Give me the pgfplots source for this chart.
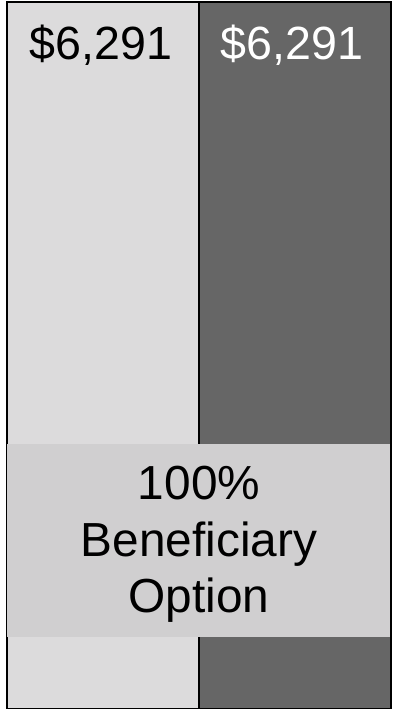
\documentclass[border=0pt]{standalone}
\usepackage{pgfplots}
\pgfplotsset{compat=1.18}
\usepackage{fontspec}
\setmainfont{Liberation Sans}
\definecolor{barL}{HTML}{DCDBDC}
\definecolor{barR}{HTML}{666666}
\definecolor{boxC}{HTML}{D0CFD0}
\begin{document}
\begin{tikzpicture}[x=0.5pt,y=0.5pt]
\begin{axis}[at={(0,0)},anchor=south west,
  scale only axis, width=196.5pt, height=354.5pt,
  xmin=0, xmax=393, ymin=20, ymax=6308.7,
  hide axis, clip=true,
  /pgf/number format/assume math mode=true,
  nodes near coords={\$\pgfmathprintnumber[1000 sep={,}]{\pgfplotspointmeta}},
  every node near coord/.style={anchor=base, yshift=-29pt, font=\fontsize{23.3}{27}\selectfont},
]
\addplot[ybar, bar width=192, fill=barL, draw=black, line width=1.1pt,
  every node near coord/.append style={text=black, xshift=-1pt}] coordinates {(103,6291)};
\addplot[ybar, bar width=192, fill=barR, draw=black, line width=1.1pt,
  every node near coord/.append style={text=white, xshift=-1.5pt}] coordinates {(295,6291)};
\fill[boxC] (rel axis cs:0.0178,0.1016) rectangle (rel axis cs:0.9949,0.3738);
\draw[black, line width=0.5pt] (rel axis cs:0.0178,0.1016) -- (rel axis cs:0.0178,0.3738);
\draw[black, line width=0.5pt] (rel axis cs:0.9949,0.1016) -- (rel axis cs:0.9949,0.3738);
\node[anchor=base, font=\fontsize{23.9}{27}\selectfont, inner sep=0pt] at (rel axis cs:0.5064,0.2948) {100\%};
\node[anchor=base, font=\fontsize{23.9}{27}\selectfont, inner sep=0pt] at (rel axis cs:0.5064,0.2144) {Beneficiary};
\node[anchor=base, font=\fontsize{23.9}{27}\selectfont, inner sep=0pt] at (rel axis cs:0.5064,0.1354) {Option};
\end{axis}
\pgfresetboundingbox
\useasboundingbox (0,0) rectangle (393,709);
\end{tikzpicture}
\end{document}
